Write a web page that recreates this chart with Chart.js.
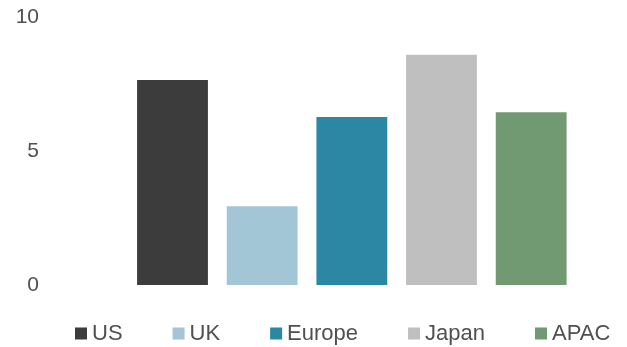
<!DOCTYPE html>
<html>
<head>
<meta charset="utf-8">
<script src="https://cdn.jsdelivr.net/npm/chart.js@4.4.1/dist/chart.umd.min.js"></script>
<style>
  html, body { margin: 0; padding: 0; background: #ffffff; }
  #wrap { width: 627px; height: 347px; position: relative; }
</style>
</head>
<body>
<div id="wrap"><canvas id="c"></canvas></div>
<script>
const categories = ['US', 'UK', 'Europe', 'Japan', 'APAC'];
const values = [7.65, 2.94, 6.27, 8.59, 6.45];
const colors = ['#3c3c3c', '#a3c6d6', '#2b87a3', '#bfbfbf', '#719a72'];
const yTicks = [0, 5, 10];

const textColor = '#505050';
const fontFamily = '"Liberation Sans", Arial, sans-serif';

// the reference leaves one empty slot before the first bar
const axisLabels = [''].concat(categories);

const datasets = categories.map((name, i) => ({
  label: name,
  data: axisLabels.map((c, j) => (j === i + 1 ? values[i] : null)),
  backgroundColor: colors[i],
  borderWidth: 0,
  grouped: false,
  barPercentage: 0.79,
  categoryPercentage: 1.0
}));

// Legend drawn on the canvas from the datasets (square swatch + label, one row)
const bottomLegend = {
  id: 'bottomLegend',
  afterDraw(chart, args, opts) {
    const ctx = chart.ctx;
    ctx.save();
    ctx.font = opts.fontSize + 'px ' + fontFamily;
    ctx.textBaseline = 'middle';
    ctx.textAlign = 'left';
    let x = opts.startX;
    const cy = opts.centerY;
    chart.data.datasets.forEach(ds => {
      ctx.fillStyle = ds.backgroundColor;
      ctx.fillRect(x, cy - opts.box / 2, opts.box, opts.box);
      x += opts.box + opts.gap;
      ctx.fillStyle = textColor;
      ctx.fillText(ds.label, x, cy);
      x += ctx.measureText(ds.label).width + opts.spacing;
    });
    ctx.restore();
  }
};

new Chart(document.getElementById('c'), {
  type: 'bar',
  data: { labels: axisLabels, datasets: datasets },
  plugins: [bottomLegend],
  options: {
    responsive: true,
    maintainAspectRatio: false,
    animation: false,
    layout: { padding: { top: 17, left: 0, right: 51, bottom: 62 } },
    plugins: {
      tooltip: { enabled: false },
      legend: { display: false },
      bottomLegend: { startX: 75, centerY: 333.5, box: 12, gap: 5, spacing: 50, fontSize: 22 }
    },
    scales: {
      x: {
        display: false,
        grid: { display: false }
      },
      y: {
        min: yTicks[0],
        max: yTicks[yTicks.length - 1],
        grid: { display: false, drawTicks: false },
        border: { display: false },
        afterFit: (scale) => { scale.width = 38; },
        afterBuildTicks: (scale) => { scale.ticks = yTicks.map(v => ({ value: v })); },
        ticks: {
          padding: -1,
          color: textColor,
          font: { family: fontFamily, size: 21 }
        }
      }
    }
  }
});
</script>
</body>
</html>
